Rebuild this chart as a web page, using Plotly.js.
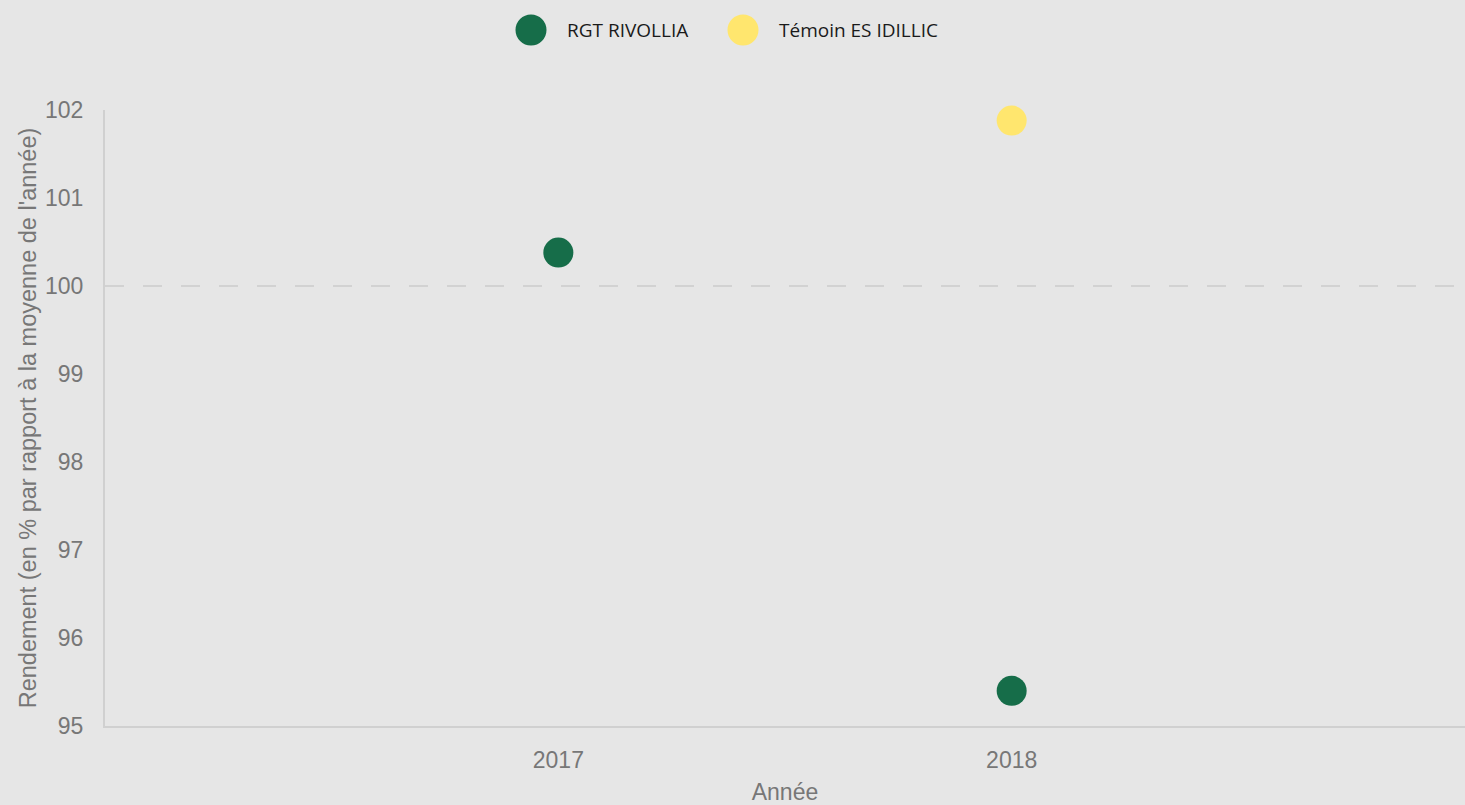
<!DOCTYPE html>
<html>
<head>
<meta charset="utf-8">
<script src="https://cdn.plot.ly/plotly-3.0.1.min.js"></script>
<style>html,body{margin:0;padding:0;background:#e6e6e6;}#chart{width:1465px;height:805px;}</style>
</head>
<body>
<div id="chart"></div>
<script>
const seriesNames = ["RGT RIVOLLIA", "Témoin ES IDILLIC"];
const seriesColors = ["#166d49", "#ffe66e"];
const rgtYears = [2017, 2018];
const rgtValues = [100.38, 95.4];
const temoinYears = [2018];
const temoinValues = [101.88];
const xTicks = [2017, 2018];
const yTicks = [95, 96, 97, 98, 99, 100, 101, 102];
const referenceLevel = 100;

const W = 1465, H = 805;
const M = {l: 105, r: 0, t: 110, b: 79};
const PW = W - M.l - M.r, PH = H - M.t - M.b;
const px = x => (x - M.l) / PW;
const py = y => (H - M.b - y) / PH;

const traces = [
  {x: rgtYears, y: rgtValues, name: seriesNames[0], type: 'scatter', mode: 'markers', cliponaxis: false,
   marker: {size: 30, color: seriesColors[0]}, hoverinfo: 'x+y+name'},
  {x: temoinYears, y: temoinValues, name: seriesNames[1], type: 'scatter', mode: 'markers', cliponaxis: false,
   marker: {size: 30, color: seriesColors[1]}, hoverinfo: 'x+y+name'}
];

const legendX = [531, 743];
const legendY = 30;
const shapes = [
  {type: 'line', xref: 'paper', yref: 'y', x0: 0, x1: 1, y0: referenceLevel, y1: referenceLevel,
   line: {color: '#d2d2d2', width: 2, dash: '19px,19px'}, layer: 'below'}
];
const annotations = [];
seriesNames.forEach((n, i) => {
  shapes.push({type: 'circle', xref: 'paper', yref: 'paper', xsizemode: 'pixel', ysizemode: 'pixel',
    xanchor: px(legendX[i]), yanchor: py(legendY), x0: -15.5, x1: 15.5, y0: -15.5, y1: 15.5,
    fillcolor: seriesColors[i], line: {width: 0}});
  annotations.push({xref: 'paper', yref: 'paper', x: px(legendX[i] + 34), y: py(legendY),
    xanchor: 'left', yanchor: 'middle', showarrow: false, text: n,
    font: {family: 'Open Sans', size: 19, color: '#1a1a1a'}});
});

const layout = {
  width: W, height: H,
  margin: M,
  paper_bgcolor: '#e6e6e6', plot_bgcolor: '#e6e6e6',
  showlegend: false,
  font: {family: 'Liberation Sans, Arial, sans-serif', size: 23, color: '#777777'},
  xaxis: {
    type: 'linear', range: [2016, 2019], tickvals: xTicks, ticktext: xTicks.map(String),
    showgrid: false, zeroline: false, showline: true, linecolor: '#d0d0d0', linewidth: 2,
    ticks: '', ticklabelstandoff: 12,
    tickfont: {size: 23, color: '#777777'},
    title: {text: 'Année', font: {size: 23, color: '#777777'}, standoff: 13}
  },
  yaxis: {
    range: [95, 102], tickvals: yTicks, ticktext: yTicks.map(String),
    showgrid: false, zeroline: false, showline: true, linecolor: '#d0d0d0', linewidth: 2,
    ticks: '', ticklabelstandoff: 15,
    tickfont: {size: 23, color: '#777777'},
    title: {text: "Rendement (en % par rapport à la moyenne de l'année)", font: {size: 23.5, color: '#777777'}, standoff: 2}
  },
  shapes: shapes,
  annotations: annotations
};

Plotly.newPlot('chart', traces, layout, {displayModeBar: false, responsive: false});
</script>
</body>
</html>
